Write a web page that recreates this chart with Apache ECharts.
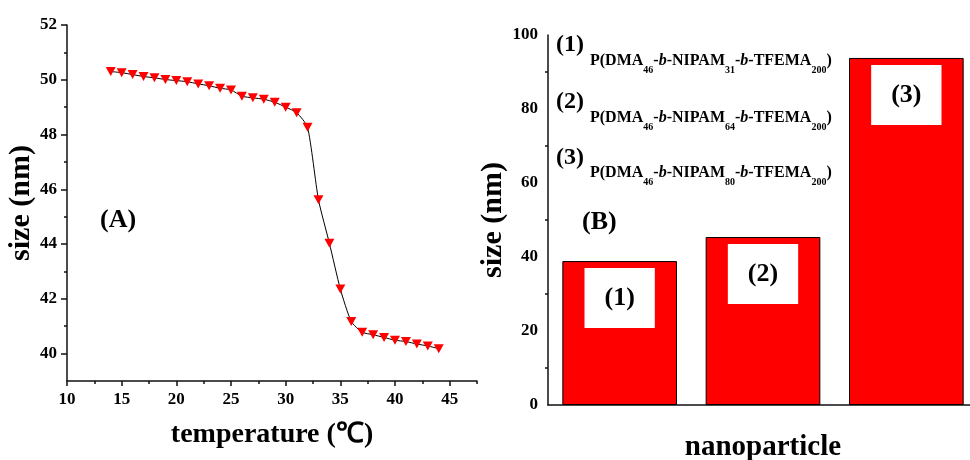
<!DOCTYPE html>
<html>
<head>
<meta charset="utf-8">
<title>size vs temperature / nanoparticle</title>
<script src="https://cdn.jsdelivr.net/npm/echarts@6/dist/echarts.min.js"></script>
<style>
  html, body { margin: 0; padding: 0; background: #fff; }
  #main { width: 970px; height: 460px; }
</style>
</head>
<body>
<div id="main"></div>
<script>
// (A) size vs temperature
var tempC = [14, 15, 16, 17, 18, 19, 20, 21, 22, 23, 24, 25, 26, 27, 28, 29, 30,
  31, 32, 33, 34, 35, 36, 37, 38, 39, 40, 41, 42, 43, 44];
var sizeA = [50.30, 50.26, 50.19, 50.12, 50.07, 50.01, 49.97, 49.93, 49.85, 49.78, 49.69,
  49.63, 49.40, 49.34, 49.29, 49.18, 49.00, 48.80, 48.27, 45.62, 44.03, 42.36, 41.17,
  40.78, 40.69, 40.59, 40.49, 40.44, 40.35, 40.28, 40.18];
var xTicksA = [10, 15, 20, 25, 30, 35, 40, 45];
var xMinorA = [12.5, 17.5, 22.5, 27.5, 32.5, 37.5, 42.5, 47.5];
var yTicksA = [40, 42, 44, 46, 48, 50, 52];
var yMinorA = [41, 43, 45, 47, 49, 51];

// (B) size per nanoparticle
var particles = ['(1)', '(2)', '(3)'];
var sizeB = [38.9, 45.4, 93.8];
var nipam = ['31', '64', '80'];

var FONT = '"Liberation Serif", "Times New Roman", serif';
var lineStyle = { color: '#111', width: 1.5 };
var tickLabel = { fontSize: 17, fontWeight: 'bold', fontFamily: FONT, color: '#000' };
var nameStyle = { fontSize: 28, fontWeight: 'bold', fontFamily: FONT, color: '#000' };

var myChart = echarts.init(document.getElementById('main'));

// legend text of panel B, one row per polymer
var graphics = [
  { type: 'text', x: 100, y: 220, style: { text: '(A)', font: 'bold 26px ' + FONT, fill: '#000', verticalAlign: 'middle' } },
  { type: 'text', x: 582, y: 222, style: { text: '(B)', font: 'bold 26px ' + FONT, fill: '#000', verticalAlign: 'middle' } }
];
var rowY = [45, 102, 158];
var formulaY = [61, 118, 173];
particles.forEach(function (p, i) {
  graphics.push({ type: 'text', x: 556, y: rowY[i],
    style: { text: p, font: 'bold 24px ' + FONT, fill: '#000', verticalAlign: 'middle' } });
  graphics.push({ type: 'text', x: 590, y: formulaY[i],
    style: {
      text: '{m|P(DMA}{s|46}{m|-}{i|b}{m|-NIPAM}{s|' + nipam[i] + '}{m|-}{i|b}{m|-TFEMA}{s|200}{m|)}',
      verticalAlign: 'middle',
      rich: {
        m: { fontSize: 16, fontWeight: 'bold', fontFamily: FONT, fill: '#000', lineHeight: 18 },
        i: { fontSize: 16, fontWeight: 'bold', fontStyle: 'italic', fontFamily: FONT, fill: '#000', lineHeight: 18 },
        s: { fontSize: 10, fontWeight: 'bold', fontFamily: FONT, fill: '#000', lineHeight: 12, padding: [18, 0, 0, 0] }
      }
    } });
});

myChart.setOption({
  backgroundColor: '#fff',
  animation: false,
  grid: [
    { left: 67, top: 25, right: 493, bottom: 79, outerBoundsMode: 'none' },
    { left: 548, top: 35, right: -8, bottom: 55, outerBoundsMode: 'none' }
  ],
  xAxis: [
    {
      gridIndex: 0, type: 'value', position: 'bottom', min: 10, max: 47.5,
      axisLine: { show: true, onZero: false, lineStyle: lineStyle },
      axisTick: { customValues: xTicksA, length: 5, lineStyle: lineStyle },
      axisLabel: Object.assign({ customValues: xTicksA, margin: 10 }, tickLabel),
      splitLine: { show: false },
      name: 'temperature (℃)', nameLocation: 'middle', nameGap: 40, nameTextStyle: nameStyle
    },
    {
      gridIndex: 0, type: 'value', position: 'bottom', min: 10, max: 47.5,
      axisLine: { show: false },
      axisTick: { customValues: xMinorA, length: 3, lineStyle: lineStyle },
      axisLabel: { show: false },
      splitLine: { show: false }
    },
    {
      gridIndex: 1, type: 'category', position: 'bottom', data: particles,
      axisLine: { show: true, onZero: false, lineStyle: lineStyle },
      axisTick: { alignWithLabel: true, length: 7, lineStyle: lineStyle },
      axisLabel: { show: false },
      name: 'nanoparticle', nameLocation: 'middle', nameGap: 28,
      nameTextStyle: Object.assign({}, nameStyle, { fontSize: 29 })
    },
    {
      gridIndex: 1, type: 'category', position: 'bottom', data: particles,
      axisLine: { show: false },
      axisTick: { length: 4, lineStyle: lineStyle },
      axisLabel: { show: false }
    }
  ],
  yAxis: [
    {
      gridIndex: 0, type: 'value', position: 'left', min: 39, max: 52,
      axisLine: { show: true, onZero: false, lineStyle: lineStyle },
      axisTick: { customValues: yTicksA, length: 6, lineStyle: lineStyle },
      axisLabel: Object.assign({ customValues: yTicksA, margin: 10 }, tickLabel),
      splitLine: { show: false },
      name: 'size (nm)', nameLocation: 'middle', nameGap: 22,
      nameTextStyle: Object.assign({}, nameStyle, { fontSize: 30 })
    },
    {
      gridIndex: 0, type: 'value', position: 'left', min: 39, max: 52,
      axisLine: { show: false },
      axisTick: { customValues: yMinorA, length: 3, lineStyle: lineStyle },
      axisLabel: { show: false },
      splitLine: { show: false }
    },
    {
      gridIndex: 1, type: 'value', position: 'left', min: 0, max: 100, interval: 20,
      axisLine: { show: true, onZero: false, lineStyle: lineStyle },
      axisTick: { length: 6, lineStyle: lineStyle },
      minorTick: { show: true, splitNumber: 2, length: 3, lineStyle: lineStyle },
      axisLabel: Object.assign({ margin: 10 }, tickLabel),
      splitLine: { show: false },
      name: 'size (nm)', nameLocation: 'middle', nameGap: 31,
      nameTextStyle: Object.assign({}, nameStyle, { fontSize: 30 })
    }
  ],
  series: [
    {
      type: 'line', xAxisIndex: 0, yAxisIndex: 0,
      data: tempC.map(function (t, i) { return [t, sizeA[i]]; }),
      symbol: 'triangle', symbolRotate: 180, symbolSize: [10, 9],
      itemStyle: { color: '#ff0000' },
      lineStyle: { color: '#000', width: 1 },
      smooth: 0.2
    },
    {
      type: 'bar', xAxisIndex: 2, yAxisIndex: 2,
      data: sizeB, barWidth: '80%',
      itemStyle: { color: '#ff0000', borderColor: '#000', borderWidth: 1 },
      label: {
        show: true, position: 'insideTop', distance: 7, formatter: '{b}',
        backgroundColor: '#fff', padding: [17, 20], lineHeight: 26,
        fontSize: 26, fontWeight: 'bold', fontFamily: FONT, color: '#000'
      }
    }
  ],
  graphic: graphics
});
</script>
</body>
</html>
